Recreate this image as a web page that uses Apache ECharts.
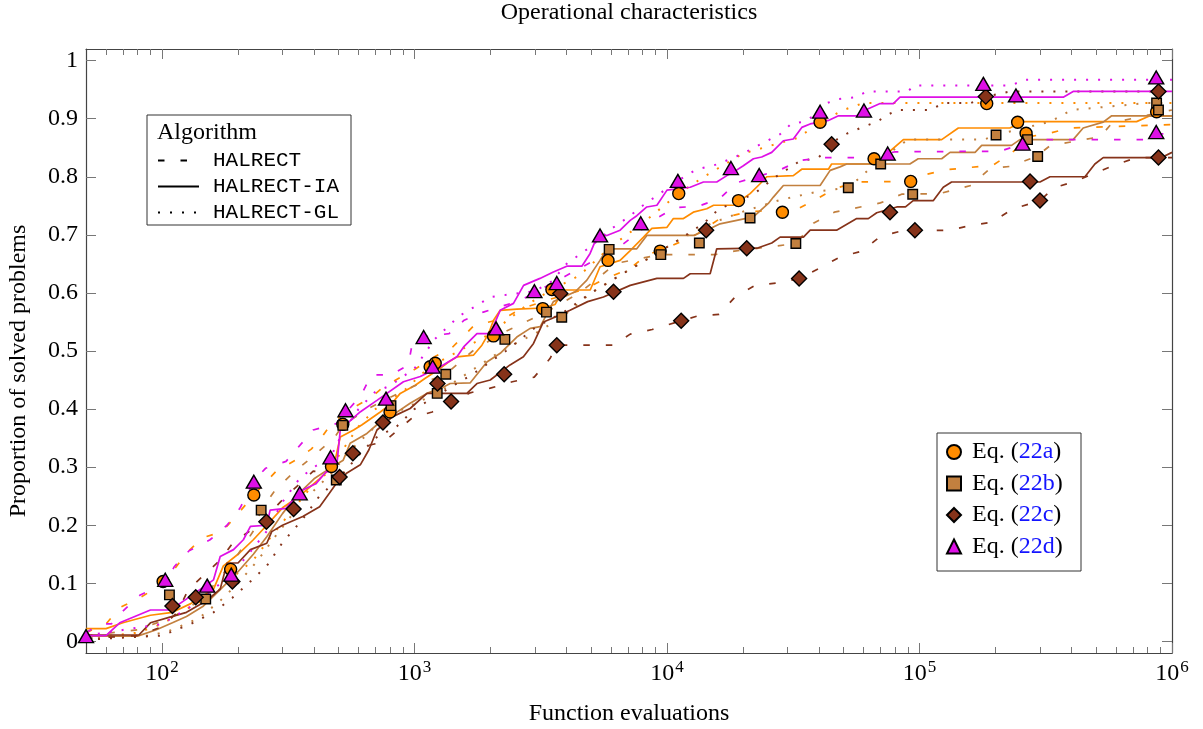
<!DOCTYPE html>
<html>
<head>
<meta charset="utf-8">
<script src="https://cdn.jsdelivr.net/npm/echarts@6/dist/echarts.min.js"></script>
<style>
  html, body { margin: 0; padding: 0; background: #fff; }
  #chart { width: 1203px; height: 729px; }
</style>
</head>
<body>
<div id="chart"></div>
<script>
// ---- labels ----
const chartTitle = 'Operational characteristics';
const xTitle = 'Function evaluations';
const yTitle = 'Proportion of solved problems';
const algorithms = ['HALRECT', 'HALRECT-IA', 'HALRECT-GL'];
const equations = ['Eq. (22a)', 'Eq. (22b)', 'Eq. (22c)', 'Eq. (22d)'];

// ---- axis ticks ----
const xMajorTicks = [1e2, 1e3, 1e4, 1e5, 1e6];
const xMinorTicks = [60, 70, 80, 90,
  200, 300, 400, 500, 600, 700, 800, 900,
  2000, 3000, 4000, 5000, 6000, 7000, 8000, 9000,
  20000, 30000, 40000, 50000, 60000, 70000, 80000, 90000,
  200000, 300000, 400000, 500000, 600000, 700000, 800000, 900000];
const yTicks = [0, 0.1, 0.2, 0.3, 0.4, 0.5, 0.6, 0.7, 0.8, 0.9, 1];

// ---- Eq. (22a) curves: [function evaluations, proportion solved] ----
const eq22a_HALRECT = [[50,0.015],[60,0.03],[68,0.058],[83,0.077],[99,0.097],[110,0.12],[125,0.152],[144,0.178],[173,0.189],[200,0.22],[240,0.26],[283,0.293],[337,0.312],[390,0.331],[430,0.352],[468,0.375],[560,0.4],[674,0.42],[753,0.438],[1007,0.469],[1200,0.49],[1410,0.506],[1722,0.544],[2264,0.556],[2650,0.573],[3500,0.59],[4700,0.606],[5740,0.625],[7150,0.642],[8270,0.665],[9940,0.677],[13000,0.7],[16220,0.728],[21150,0.74],[32730,0.744],[38600,0.76],[46400,0.78],[57200,0.791],[92000,0.792],[106000,0.804],[127400,0.812],[195400,0.82],[230000,0.84],[280000,0.87],[319700,0.874],[394500,0.884],[1000000,0.89]];
const eq22a_IA = [[50,0.022],[60,0.022],[70,0.032],[90,0.045],[110,0.05],[130,0.065],[160,0.09],[175,0.13],[200,0.15],[230,0.175],[260,0.2],[300,0.23],[350,0.25],[420,0.28],[470,0.3],[485,0.312],[508,0.352],[574,0.364],[620,0.373],[732,0.395],[814,0.41],[878,0.427],[1007,0.441],[1103,0.453],[1264,0.47],[1364,0.481],[1473,0.49],[1714,0.493],[1849,0.51],[1965,0.53],[2056,0.553],[2185,0.57],[2542,0.572],[3243,0.574],[3600,0.58],[3890,0.605],[4965,0.605],[5430,0.645],[6520,0.656],[7150,0.673],[8070,0.696],[8710,0.711],[10000,0.713],[10600,0.728],[11620,0.728],[12710,0.739],[14370,0.745],[15290,0.751],[18330,0.751],[21330,0.771],[23370,0.788],[24850,0.8],[31640,0.802],[34180,0.813],[43570,0.813],[44870,0.822],[66700,0.822],[86300,0.864],[122400,0.864],[142500,0.884],[228000,0.884],[257600,0.895],[724000,0.895],[818000,0.905],[1000000,0.905]];
const eq22a_GL = [[50,0.005],[80,0.015],[100,0.03],[130,0.06],[160,0.08],[190,0.11],[230,0.14],[270,0.18],[320,0.22],[380,0.26],[450,0.29],[520,0.33],[600,0.37],[700,0.4],[900,0.43],[1150,0.473],[1500,0.5],[2000,0.53],[2800,0.58],[3480,0.605],[4500,0.63],[6000,0.68],[8000,0.72],[11130,0.771],[14000,0.8],[20000,0.84],[33000,0.867],[40390,0.894],[50000,0.915],[60000,0.927],[1000000,0.927]];

// ---- Eq. (22b) curves ----
const eq22b_HALRECT = [[50,0.01],[80,0.02],[100,0.035],[120,0.05],[145,0.075],[170,0.11],[200,0.15],[230,0.19],[247,0.226],[280,0.26],[330,0.29],[400,0.32],[480,0.35],[520,0.372],[650,0.4],[800,0.42],[1000,0.44],[1330,0.46],[1700,0.5],[2200,0.53],[3330,0.567],[4500,0.6],[6300,0.651],[9450,0.666],[15500,0.666],[18500,0.672],[22000,0.676],[32380,0.685],[38000,0.72],[46000,0.739],[60000,0.749],[70000,0.755],[85000,0.77],[120000,0.771],[160000,0.785],[190000,0.814],[230000,0.818],[290000,0.835],[330000,0.854],[400000,0.86],[520000,0.869],[580000,0.893],[1000000,0.915]];
const eq22b_IA = [[50,0.009],[80,0.009],[95,0.02],[110,0.032],[125,0.043],[145,0.06],[170,0.089],[200,0.12],[230,0.15],[260,0.18],[300,0.22],[340,0.25],[400,0.28],[470,0.3],[522,0.312],[556,0.341],[648,0.358],[710,0.373],[802,0.387],[961,0.41],[1120,0.427],[1303,0.438],[1384,0.444],[1660,0.445],[1935,0.481],[2185,0.496],[2542,0.524],[2871,0.539],[3147,0.542],[3548,0.585],[4330,0.602],[4815,0.622],[5430,0.656],[5780,0.676],[7590,0.676],[8320,0.699],[12710,0.699],[14370,0.708],[16220,0.719],[21990,0.731],[25190,0.754],[26380,0.765],[28900,0.785],[40400,0.785],[44270,0.811],[48450,0.817],[51500,0.822],[91600,0.822],[98800,0.831],[122400,0.831],[132100,0.842],[166000,0.842],[176300,0.854],[231500,0.854],[249800,0.864],[406000,0.864],[444800,0.884],[534000,0.894],[577000,0.905],[1000000,0.905]];
const eq22b_GL = [[50,0.005],[90,0.01],[110,0.02],[140,0.04],[170,0.07],[200,0.1],[240,0.14],[280,0.18],[330,0.22],[400,0.26],[470,0.29],[560,0.33],[700,0.37],[900,0.4],[1230,0.427],[1600,0.46],[2200,0.5],[3000,0.53],[3830,0.558],[5000,0.6],[6500,0.63],[8500,0.66],[11000,0.69],[15000,0.72],[20000,0.74],[28000,0.76],[40000,0.775],[52240,0.781],[70000,0.83],[90000,0.864],[180000,0.864],[201000,0.872],[330000,0.895],[400000,0.915],[800000,0.927],[1000000,0.927]];

// ---- Eq. (22c) curves ----
const eq22c_HALRECT = [[50,0.005],[80,0.01],[100,0.025],[115,0.05],[127,0.089],[148,0.116],[170,0.14],[191,0.17],[240,0.2],[302,0.245],[397,0.293],[432,0.292],[520,0.31],[638,0.336],[758,0.344],[980,0.385],[1175,0.395],[1400,0.41],[1660,0.428],[1995,0.436],[2440,0.447],[2980,0.455],[3440,0.487],[3660,0.51],[6120,0.51],[7150,0.529],[8730,0.537],[11380,0.552],[13150,0.56],[16070,0.563],[18600,0.593],[22340,0.613],[27300,0.617],[33360,0.625],[40400,0.643],[48450,0.662],[59200,0.672],[69800,0.697],[85300,0.707],[132000,0.708],[158500,0.716],[193800,0.722],[232500,0.744],[300000,0.759],[341000,0.781],[413000,0.792],[500000,0.807],[600000,0.821],[726000,0.833],[1000000,0.833]];
const eq22c_IA = [[50,0.011],[81,0.011],[90,0.032],[110,0.043],[125,0.05],[150,0.07],[170,0.09],[181,0.135],[200,0.135],[224,0.158],[260,0.169],[272,0.189],[300,0.2],[361,0.215],[421,0.232],[460,0.255],[490,0.272],[540,0.29],[610,0.304],[660,0.33],[710,0.364],[820,0.387],[961,0.401],[1120,0.427],[1612,0.427],[1767,0.444],[1995,0.45],[2390,0.476],[2700,0.49],[2960,0.513],[3240,0.55],[3500,0.556],[4130,0.57],[4850,0.585],[5600,0.593],[7150,0.613],[9120,0.625],[11620,0.625],[12360,0.633],[14820,0.633],[15740,0.676],[22700,0.677],[26000,0.686],[28050,0.696],[34700,0.696],[36900,0.708],[46950,0.708],[56400,0.728],[62700,0.728],[67700,0.738],[81300,0.748],[88000,0.748],[94400,0.759],[113500,0.759],[124200,0.782],[134000,0.791],[300000,0.791],[328700,0.8],[452000,0.8],[495000,0.822],[534000,0.833],[910000,0.833],[1000000,0.842]];
const eq22c_GL = [[50,0.003],[100,0.01],[130,0.03],[160,0.05],[190,0.075],[220,0.1],[260,0.13],[300,0.17],[360,0.21],[420,0.25],[500,0.28],[600,0.32],[700,0.35],[850,0.37],[1000,0.4],[1300,0.43],[1700,0.46],[2300,0.5],[3000,0.54],[4000,0.57],[5000,0.6],[6500,0.63],[8500,0.66],[11000,0.69],[14000,0.72],[16000,0.744],[22000,0.77],[27000,0.8],[33000,0.825],[40000,0.834],[47000,0.864],[52000,0.875],[60000,0.886],[68000,0.895],[75000,0.907],[82000,0.915],[110000,0.915],[125000,0.927],[160000,0.927],[183000,0.938],[230000,0.947],[1000000,0.947]];

// ---- Eq. (22d) curves ----
const eq22d_HALRECT = [[50,0.015],[57,0.03],[63,0.03],[70,0.052],[82,0.08],[103,0.1],[112,0.129],[128,0.156],[155,0.175],[181,0.2],[204,0.23],[230,0.275],[257,0.298],[310,0.31],[397,0.364],[490,0.375],[615,0.424],[674,0.459],[809,0.459],[945,0.476],[980,0.513],[1082,0.524],[1371,0.53],[1573,0.553],[1873,0.567],[2620,0.587],[4000,0.63],[6520,0.68],[9060,0.728],[10770,0.747],[13270,0.749],[16220,0.763],[18930,0.79],[28050,0.812],[33650,0.828],[41120,0.833],[63700,0.833],[80000,0.843],[208500,0.844],[230300,0.85],[260000,0.864],[781000,0.864],[830000,0.874],[1000000,0.874]];
const eq22d_IA = [[50,0.01],[60,0.01],[68,0.032],[90,0.054],[108,0.054],[129,0.077],[160,0.106],[170,0.146],[192,0.158],[210,0.175],[224,0.198],[260,0.2],[268,0.226],[310,0.229],[351,0.258],[408,0.272],[447,0.292],[490,0.295],[505,0.352],[508,0.364],[570,0.384],[609,0.395],[710,0.415],[904,0.447],[1054,0.456],[1265,0.473],[1473,0.49],[1565,0.507],[1767,0.53],[1995,0.53],[2185,0.57],[2466,0.582],[2704,0.613],[3140,0.625],[3548,0.636],[4009,0.646],[4600,0.646],[4960,0.668],[5277,0.696],[5779,0.699],[6522,0.708],[7150,0.725],[7593,0.733],[8318,0.748],[9120,0.751],[10000,0.777],[12360,0.782],[13940,0.791],[15740,0.791],[17260,0.802],[18330,0.808],[20060,0.819],[21990,0.831],[23710,0.834],[25990,0.842],[28900,0.862],[31640,0.865],[34180,0.885],[36880,0.891],[40380,0.894],[43570,0.897],[47770,0.905],[56400,0.905],[62700,0.917],[69800,0.926],[78800,0.926],[83700,0.937],[371000,0.937],[406000,0.947],[1000000,0.947]];
const eq22d_GL = [[50,0.01],[100,0.03],[130,0.06],[160,0.09],[188,0.115],[220,0.15],[260,0.19],[300,0.24],[350,0.28],[400,0.3],[465,0.317],[520,0.36],[600,0.4],[700,0.43],[800,0.44],[1000,0.47],[1200,0.52],[1500,0.56],[2000,0.593],[2985,0.603],[3500,0.62],[4000,0.65],[5000,0.68],[6000,0.71],[7000,0.73],[8000,0.75],[11040,0.793],[13000,0.812],[16000,0.822],[20000,0.84],[23000,0.854],[28000,0.873],[31000,0.891],[35000,0.895],[40390,0.912],[43000,0.927],[48000,0.934],[56000,0.937],[62000,0.947],[90000,0.947],[95000,0.957],[230000,0.957],[260000,0.967],[1000000,0.967]];

// ---- markers for each equation ----
const marks22a = [[101,0.103],[187,0.124],[231,0.252],[469,0.301],[520,0.374],[800,0.395],[1153,0.473],[1208,0.479],[2055,0.526],[3221,0.573],[3500,0.606],[5840,0.656],[9400,0.672],[11130,0.771],[19190,0.759],[28650,0.739],[40390,0.894],[66070,0.831],[92270,0.792],[184600,0.926],[244700,0.894],[264300,0.875],[869000,0.912]];
const marks22b = [[107,0.08],[149,0.073],[247,0.226],[490,0.278],[520,0.372],[807,0.406],[1230,0.427],[1330,0.46],[2280,0.52],[3330,0.567],[3830,0.558],[5900,0.675],[9450,0.666],[13430,0.686],[21330,0.729],[32380,0.685],[52240,0.781],[70190,0.822],[94000,0.77],[201000,0.872],[267800,0.864],[293800,0.835],[869000,0.927],[884000,0.915]];
const marks22c = [[110,0.061],[136,0.076],[190,0.103],[259,0.206],[332,0.228],[505,0.283],[570,0.324],[750,0.377],[1233,0.444],[1396,0.413],[2265,0.46],[3660,0.51],[3780,0.599],[6140,0.602],[11380,0.552],[14290,0.708],[20690,0.677],[33360,0.625],[44870,0.856],[76400,0.739],[95900,0.708],[183000,0.938],[274000,0.792],[300000,0.759],[884000,0.947],[884000,0.833]];
const marks22d = [[50,0.009],[103,0.106],[151,0.096],[188,0.115],[231,0.275],[351,0.255],[465,0.317],[533,0.398],[771,0.418],[1087,0.524],[1180,0.473],[2104,0.539],[2985,0.603],[3660,0.617],[5430,0.699],[7870,0.72],[11040,0.793],[17910,0.815],[23180,0.803],[40390,0.912],[60260,0.914],[74820,0.84],[179000,0.96],[241000,0.94],[256000,0.857],[866000,0.971],[866000,0.877]];

// ---- styling ----
const SERIF = '"Liberation Serif", "DejaVu Serif", serif';
const MONO = '"Liberation Mono", "DejaVu Sans Mono", monospace';
const colors = ['#ff8c00', '#c2803f', '#86331a', '#de10e6'];
const dashFor = { 'HALRECT': [6.5, 16], 'HALRECT-IA': 'solid', 'HALRECT-GL': [2, 10] };
const widthFor = { 'HALRECT': 1.7, 'HALRECT-IA': 1.7, 'HALRECT-GL': 2 };
const symbols = [
  { symbol: 'circle', size: 12 },
  { symbol: 'rect', size: 9.5 },
  { symbol: 'diamond', size: 15 },
  { symbol: 'triangle', size: [15, 13] }
];

const curves = [
  [eq22a_HALRECT, eq22a_IA, eq22a_GL],
  [eq22b_HALRECT, eq22b_IA, eq22b_GL],
  [eq22c_HALRECT, eq22c_IA, eq22c_GL],
  [eq22d_HALRECT, eq22d_IA, eq22d_GL]
];
const marks = [marks22a, marks22b, marks22c, marks22d];

const series = [];
curves.forEach((group, e) => {
  group.forEach((data, a) => {
    const alg = algorithms[a];
    series.push({
      type: 'line', name: equations[e] + ' ' + alg, data: data,
      xAxisIndex: 0, yAxisIndex: 0, symbol: 'none', silent: true, z: 2,
      lineStyle: { color: colors[e], width: widthFor[alg], type: dashFor[alg], cap: 'butt' }
    });
  });
});
marks.forEach((data, e) => {
  series.push({
    type: 'scatter', name: equations[e], data: data,
    xAxisIndex: 0, yAxisIndex: 0, silent: true, z: 3,
    symbol: symbols[e].symbol, symbolSize: symbols[e].size,
    itemStyle: { color: colors[e], borderColor: '#000', borderWidth: 1.4, opacity: 1 }
  });
});
// legend entries for the three algorithm line styles
algorithms.forEach(alg => {
  series.push({
    type: 'line', name: alg, data: [], symbol: 'none',
    xAxisIndex: 0, yAxisIndex: 0,
    lineStyle: { color: '#000', width: alg === 'HALRECT-GL' ? 2 : 1.7, type: dashFor[alg] },
    itemStyle: { color: '#000' }
  });
});

function logAxis(position, ticks, tickLen, showLine, showLabels) {
  return {
    type: 'log', logBase: 10, min: 50, max: 1e6, position: position,
    axisLine: { show: showLine, onZero: false, lineStyle: { color: '#444', width: 1.2 } },
    axisTick: { show: true, inside: true, length: tickLen, customValues: ticks, lineStyle: { color: '#777', width: 1 } },
    axisLabel: {
      show: showLabels, customValues: xMajorTicks, margin: 6,
      formatter: v => '{b|10}{s|' + Math.round(Math.log10(v)) + '}',
      rich: {
        b: { fontFamily: SERIF, fontSize: 24, color: '#000', verticalAlign: 'bottom' },
        s: { fontFamily: SERIF, fontSize: 17, color: '#000', verticalAlign: 'bottom', padding: [0, 0, 10, 1] }
      }
    },
    splitLine: { show: false }
  };
}
function linAxis(position, showLabels) {
  return {
    type: 'value', min: -0.02, max: 1.02, position: position,
    axisLine: { show: true, onZero: false, lineStyle: { color: '#444', width: 1.2 } },
    axisTick: { show: true, inside: true, length: 10, customValues: yTicks, lineStyle: { color: '#777', width: 1 } },
    axisLabel: {
      show: showLabels, customValues: yTicks, margin: 8,
      fontFamily: SERIF, fontSize: 24, color: '#000',
      formatter: v => (Math.abs(v) < 1e-9 ? '0' : Math.abs(v - 1) < 1e-9 ? '1' : v.toFixed(1))
    },
    splitLine: { show: false }
  };
}

const option = {
  animation: false,
  backgroundColor: '#fff',
  grid: { left: 86, right: 31, top: 49, bottom: 76, containLabel: false },
  xAxis: [
    logAxis('bottom', xMajorTicks, 10, true, true),
    logAxis('bottom', xMinorTicks, 6, false, false),
    logAxis('top', xMajorTicks, 10, true, false),
    logAxis('top', xMinorTicks, 6, false, false)
  ],
  yAxis: [linAxis('left', true), linAxis('right', false)],
  legend: [
    {
      data: algorithms, orient: 'vertical', left: 157, top: 150, padding: 0,
      itemWidth: 41, itemHeight: 14, itemGap: 5, selectedMode: false, z: 10,
      itemStyle: { color: 'rgba(0,0,0,0)', borderWidth: 0, opacity: 0 },
      formatter: n => '{t|' + n + '}',
      textStyle: { rich: { t: { fontFamily: MONO, fontSize: 21, color: '#000', lineHeight: 20, padding: [0, 0, 0, 9] } } }
    },
    {
      data: equations, orient: 'vertical', left: 946, top: 440, padding: 0,
      itemWidth: 14, itemHeight: 14, itemGap: 7.5, selectedMode: false, z: 10,
      formatter: n => '{p|Eq. (}{b|' + n.slice(5, -1) + '}{t|)}',
      textStyle: {
        rich: {
          p: { fontFamily: SERIF, fontSize: 24, color: '#000', lineHeight: 24, padding: [0, 0, 0, 6] },
          t: { fontFamily: SERIF, fontSize: 24, color: '#000', lineHeight: 24 },
          b: { fontFamily: SERIF, fontSize: 24, color: '#1414ff', lineHeight: 24 }
        }
      }
    }
  ],
  graphic: [
    { type: 'text', x: 629, y: 13, z: 10, style: { text: chartTitle, font: '24px ' + SERIF, fill: '#000', textAlign: 'center', textVerticalAlign: 'middle' } },
    { type: 'text', x: 629, y: 714, z: 10, style: { text: xTitle, font: '24px ' + SERIF, fill: '#000', textAlign: 'center', textVerticalAlign: 'middle' } },
    { type: 'text', x: 19, y: 371, rotation: Math.PI / 2, z: 10, style: { text: yTitle, font: '24px ' + SERIF, fill: '#000', textAlign: 'center', textVerticalAlign: 'middle' } },
    { type: 'rect', z: 8, shape: { x: 147, y: 115, width: 204, height: 110 }, style: { fill: '#fff', stroke: '#333', lineWidth: 1 } },
    { type: 'text', x: 157, y: 133, z: 10, style: { text: 'Algorithm', font: '24px ' + SERIF, fill: '#000', textAlign: 'left', textVerticalAlign: 'middle' } },
    { type: 'rect', z: 8, shape: { x: 937, y: 433, width: 144, height: 138 }, style: { fill: '#fff', stroke: '#333', lineWidth: 1 } }
  ],
  series: series
};

const chart = echarts.init(document.getElementById('chart'), null, { renderer: 'canvas' });
chart.setOption(option);
</script>
</body>
</html>
